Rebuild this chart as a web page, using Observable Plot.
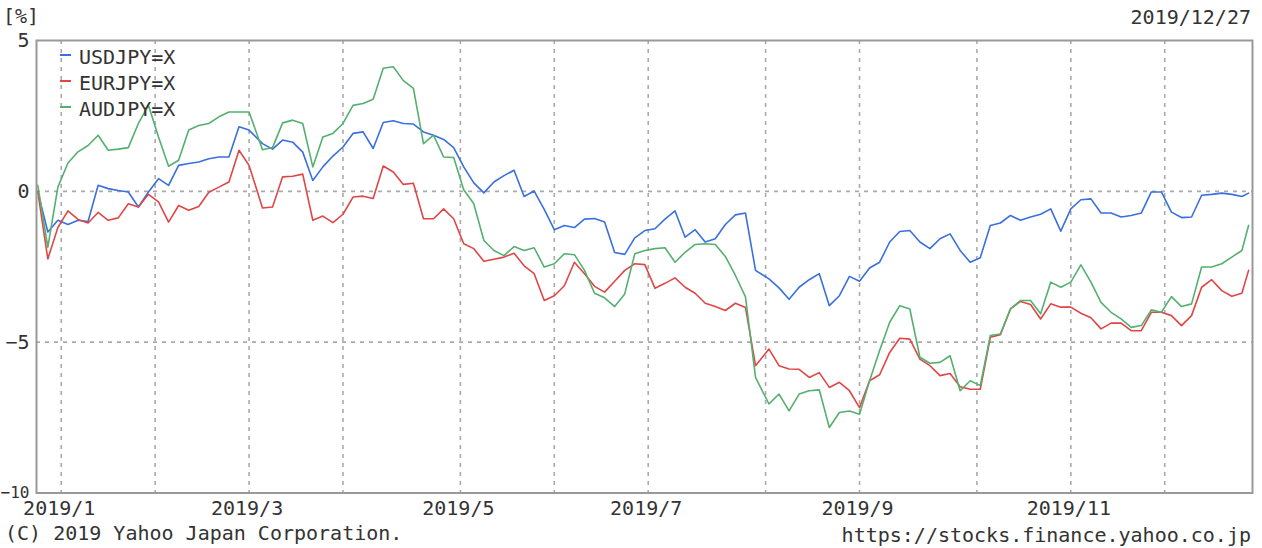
<!DOCTYPE html>
<html>
<head>
<meta charset="utf-8">
<script src="https://cdn.jsdelivr.net/npm/d3@7"></script>
<script src="https://cdn.jsdelivr.net/npm/@observablehq/plot@0.6"></script>
<style>
  html, body { margin: 0; padding: 0; background: #fff; }
  #wrap { position: relative; width: 1262px; height: 548px; overflow: hidden; font-family: "DejaVu Sans Mono", monospace; font-size: 20px; color: #333; }
  #wrap svg { position: absolute; left: 0; top: 0; }
  .t { position: absolute; line-height: 20px; white-space: pre; }
  .f { position: absolute; line-height: 14px; white-space: pre; }
  .leg { position: absolute; width: 11px; height: 2px; }
</style>
</head>
<body>
<div id="wrap"></div>
<script>
const dates = [
"2018-12-31","2019-01-03","2019-01-06","2019-01-09","2019-01-12","2019-01-15","2019-01-18","2019-01-21","2019-01-24","2019-01-27",
"2019-01-30","2019-02-02","2019-02-05","2019-02-08","2019-02-11","2019-02-14","2019-02-17","2019-02-20","2019-02-23","2019-02-26",
"2019-03-01","2019-03-04","2019-03-08","2019-03-11","2019-03-14","2019-03-17","2019-03-20","2019-03-23","2019-03-26","2019-03-29",
"2019-04-01","2019-04-04","2019-04-07","2019-04-10","2019-04-13","2019-04-16","2019-04-19","2019-04-22","2019-04-25","2019-04-28",
"2019-05-01","2019-05-04","2019-05-07","2019-05-10","2019-05-13","2019-05-16","2019-05-19","2019-05-22","2019-05-25","2019-05-28",
"2019-05-31","2019-06-03","2019-06-06","2019-06-09","2019-06-12","2019-06-15","2019-06-18","2019-06-21","2019-06-24","2019-06-27",
"2019-06-30","2019-07-03","2019-07-06","2019-07-09","2019-07-12","2019-07-15","2019-07-18","2019-07-21","2019-07-24","2019-07-27",
"2019-07-30","2019-08-02","2019-08-06","2019-08-09","2019-08-12","2019-08-15","2019-08-18","2019-08-21","2019-08-24","2019-08-27",
"2019-08-30","2019-09-02","2019-09-05","2019-09-08","2019-09-11","2019-09-14","2019-09-17","2019-09-20","2019-09-23","2019-09-26",
"2019-09-29","2019-10-02","2019-10-05","2019-10-08","2019-10-11","2019-10-14","2019-10-17","2019-10-20","2019-10-23","2019-10-26",
"2019-10-29","2019-11-01","2019-11-04","2019-11-07","2019-11-10","2019-11-13","2019-11-16","2019-11-19","2019-11-22","2019-11-25",
"2019-11-28","2019-12-01","2019-12-04","2019-12-07","2019-12-10","2019-12-13","2019-12-16","2019-12-19","2019-12-22","2019-12-25",
"2019-12-27"
];

const usdjpy = [
0.0,-1.35,-0.96,-1.1,-0.96,-1.0,0.2,0.09,0.03,-0.02,
-0.52,-0.02,0.42,0.2,0.86,0.92,0.97,1.08,1.14,1.14,
2.14,2.03,1.58,1.40,1.7,1.63,1.3,0.36,0.81,1.17,
1.47,1.92,1.97,1.42,2.28,2.34,2.25,2.23,1.97,1.86,
1.72,1.45,0.81,0.28,-0.05,0.31,0.52,0.7,-0.17,0.01,
-0.6,-1.27,-1.13,-1.2,-0.92,-0.9,-1.02,-2.03,-2.09,-1.54,
-1.3,-1.24,-0.92,-0.65,-1.52,-1.27,-1.68,-1.57,-1.1,-0.78,
-0.72,-2.62,-2.9,-3.2,-3.58,-3.18,-2.93,-2.73,-3.79,-3.46,
-2.82,-2.98,-2.54,-2.35,-1.68,-1.33,-1.3,-1.68,-1.9,-1.57,
-1.41,-1.96,-2.35,-2.2,-1.13,-1.05,-0.8,-0.96,-0.85,-0.76,
-0.58,-1.32,-0.58,-0.28,-0.25,-0.72,-0.72,-0.85,-0.8,-0.72,
-0.02,-0.02,-0.69,-0.87,-0.85,-0.13,-0.1,-0.06,-0.1,-0.17,
-0.06
];

const eurjpy = [
0.0,-2.24,-1.2,-0.65,-0.93,-1.05,-0.7,-0.96,-0.88,-0.41,
-0.52,-0.1,-0.35,-1.02,-0.47,-0.63,-0.5,-0.03,0.14,0.31,
1.36,0.86,-0.55,-0.52,0.48,0.5,0.57,-0.96,-0.82,-1.04,
-0.76,-0.19,-0.16,-0.24,0.84,0.64,0.23,0.27,-0.91,-0.91,
-0.58,-0.91,-1.74,-1.9,-2.32,-2.25,-2.18,-2.05,-2.47,-2.73,
-3.62,-3.46,-3.13,-2.35,-2.73,-3.15,-3.34,-2.98,-2.62,-2.4,
-2.43,-3.21,-3.05,-2.87,-3.18,-3.38,-3.71,-3.82,-3.95,-3.71,
-3.85,-5.78,-5.23,-5.78,-5.89,-5.9,-6.17,-6.01,-6.5,-6.33,
-6.61,-7.17,-6.28,-6.08,-5.34,-4.87,-4.9,-5.56,-5.78,-6.11,
-6.04,-6.48,-6.56,-6.56,-4.84,-4.75,-3.9,-3.65,-3.75,-4.23,
-3.73,-3.84,-3.84,-4.04,-4.19,-4.56,-4.37,-4.37,-4.62,-4.62,
-4.01,-4.01,-4.12,-4.45,-4.12,-3.18,-2.93,-3.29,-3.48,-3.38,
-2.62
];

const audjpy = [
0.2,-1.85,0.14,0.94,1.31,1.52,1.86,1.36,1.4,1.45,
2.25,2.85,1.8,0.83,1.03,2.03,2.18,2.25,2.47,2.63,
2.63,2.63,1.38,1.45,2.27,2.36,2.25,0.81,1.8,1.92,
2.25,2.85,2.91,3.05,4.08,4.13,3.67,3.41,1.58,1.86,
1.14,1.12,0.05,-0.41,-1.63,-1.96,-2.13,-1.83,-1.96,-1.87,
-2.51,-2.4,-2.07,-2.1,-2.62,-3.38,-3.53,-3.82,-3.4,-2.07,
-1.96,-1.9,-1.87,-2.35,-2.02,-1.76,-1.74,-1.76,-2.16,-2.79,
-3.5,-6.17,-7.05,-6.72,-7.28,-6.72,-6.61,-6.58,-7.83,-7.33,
-7.28,-7.39,-6.28,-5.28,-4.34,-3.79,-3.9,-5.5,-5.7,-5.67,
-5.45,-6.61,-6.28,-6.44,-4.78,-4.73,-3.9,-3.62,-3.62,-4.06,
-3.01,-3.18,-3.01,-2.44,-3.01,-3.68,-4.01,-4.23,-4.51,-4.45,
-3.93,-4.01,-3.49,-3.82,-3.73,-2.51,-2.51,-2.4,-2.18,-1.96,
-1.13
];

const seriesNames = ["USDJPY=X", "EURJPY=X", "AUDJPY=X"];
const seriesColors = ["#3a6fe0", "#e04646", "#55b070"];

const gridDates = ["2019-01-07","2019-02-04","2019-03-04","2019-04-01","2019-05-06","2019-06-03",
                   "2019-07-01","2019-08-05","2019-09-02","2019-10-07","2019-11-04","2019-12-02"];
const labelDates = ["2019-01-07","2019-03-04","2019-05-06","2019-07-01","2019-09-02","2019-11-04"];
const tickLabels = ["2019/1","2019/3","2019/5","2019/7","2019/9","2019/11"];
const yTicks = [5, 0, -5, -10];
const yGrid = [0, -5];

const unitLabel = "[%]";
const asOfDate = "2019/12/27";
const copyright = "(C) 2019 Yahoo Japan Corporation.";
const sourceUrl = "https://stocks.finance.yahoo.co.jp";

const parse = d3.utcParse("%Y-%m-%d");
const valuesBySeries = [usdjpy, eurjpy, audjpy];
const rows = [];
seriesNames.forEach((name, i) => {
  dates.forEach((d, j) => rows.push({date: parse(d), value: valuesBySeries[i][j], series: name}));
});
const gridD = gridDates.map(parse);
const labelD = labelDates.map(parse);
const labelMap = new Map(labelD.map((d, i) => [+d, tickLabels[i]]));

const chart = Plot.plot({
  width: 1262,
  height: 548,
  marginLeft: 36,
  marginRight: 10,
  marginTop: 40,
  marginBottom: 55.5,
  x: {type: "utc", domain: [new Date("2018-12-30T15:00Z"), new Date("2019-12-28T04:00Z")]},
  y: {domain: [-10, 5]},
  color: {domain: seriesNames, range: seriesColors},
  style: {fontFamily: "DejaVu Sans Mono, monospace", fontSize: "20px", color: "#333", background: "transparent", overflow: "visible"},
  marks: [
    Plot.gridX(gridD, {stroke: "#aaa", strokeOpacity: 1, strokeWidth: 1.6, strokeDasharray: "4,5"}),
    Plot.gridY(yGrid, {stroke: "#aaa", strokeOpacity: 1, strokeWidth: 1.6, strokeDasharray: "4,5"}),
    Plot.line(rows, {x: "date", y: "value", z: "series", stroke: "series", strokeWidth: 1.6, clip: true}),
    Plot.frame({stroke: "#999", strokeWidth: 2}),
    Plot.axisY(yTicks, {tickSize: 0, tickPadding: 7, fontSize: d => (String(d).length > 2 ? 16 : 20), label: null}),
    Plot.axisX(labelD, {tickSize: 0, tickPadding: 8, fontSize: 20, dx: -2, label: null, tickFormat: d => labelMap.get(+d)})
  ]
});

const wrap = document.getElementById("wrap");
wrap.appendChild(chart);

function addText(txt, opts, cls) {
  const s = document.createElement("div");
  s.className = cls || "t";
  s.textContent = txt;
  Object.assign(s.style, opts);
  wrap.appendChild(s);
}
addText(unitLabel, {left: "3px", top: "6px"});
addText(asOfDate, {right: "11px", top: "7px"});
addText(copyright, {left: "5px", top: "526px"}, "f");
addText(sourceUrl, {right: "11px", top: "528px"}, "f");

// legend
seriesNames.forEach((name, i) => {
  const ln = document.createElement("div");
  ln.className = "leg";
  ln.style.left = "60px";
  ln.style.top = (54 + 26 * i) + "px";
  ln.style.background = seriesColors[i];
  wrap.appendChild(ln);
  addText(name, {left: "79px", top: (47 + 26 * i) + "px"});
});
</script>
</body>
</html>
